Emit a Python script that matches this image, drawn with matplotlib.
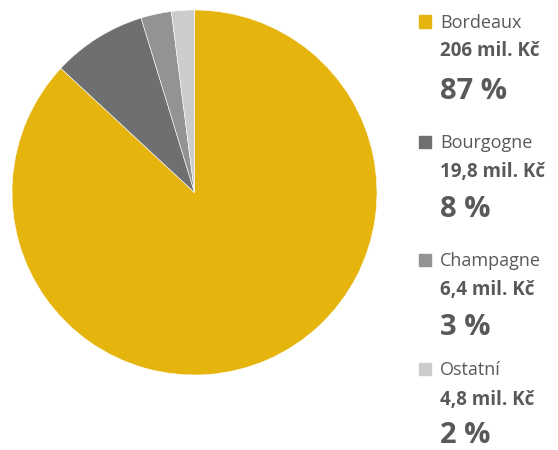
import matplotlib.pyplot as plt

labels = ['Bordeaux', 'Bourgogne', 'Champagne', 'Ostatní']
values = [206, 19.8, 6.4, 4.8]
value_labels = ['206 mil. Kč', '19,8 mil. Kč', '6,4 mil. Kč', '4,8 mil. Kč']
pct_labels = ['87 %', '8 %', '3 %', '2 %']
colors = ['#E5B50E', '#6E6F71', '#939393', '#CCCCCC']

W, H = 558, 450
TXT = '#58595B'
plt.rcParams['font.family'] = ['Open Sans', 'DejaVu Sans']

fig = plt.figure(figsize=(W / 100, H / 100), dpi=100)

# pie: centre ~ (194.5, 192.5) px, radius ~182.5 px
cx, cy, r = 194.5, 192.5, 182.5
ax = fig.add_axes([(cx - r) / W, 1 - (cy + r) / H, 2 * r / W, 2 * r / H])
ax.pie(values, colors=colors, startangle=90, counterclock=False,
       radius=1, wedgeprops=dict(edgecolor='white', linewidth=0.4))
ax.set_xlim(-1, 1)
ax.set_ylim(-1, 1)
ax.set_aspect('equal')
ax.axis('off')

def px(x, y):
    return x / W, 1 - y / H

name_y = [28, 148, 266, 375]
val_y = [56, 177, 295, 405]
pct_y = [99, 217, 335, 443]
for i, lab in enumerate(labels):
    fig.patches.append(plt.Rectangle(px(418.5, name_y[i]), 12.5 / W, 12.5 / H,
                                     transform=fig.transFigure,
                                     color=colors[i], zorder=3))
    fig.text(*px(440, name_y[i]), lab, fontsize=13, color=TXT, va='baseline')
    fig.text(*px(440, val_y[i]), value_labels[i], fontsize=13.5,
             fontweight='bold', color=TXT, va='baseline')
    fig.text(*px(440, pct_y[i]), pct_labels[i], fontsize=21,
             fontweight='bold', color=TXT, va='baseline')

fig.savefig('out.png', dpi=100)
plt.close(fig)
